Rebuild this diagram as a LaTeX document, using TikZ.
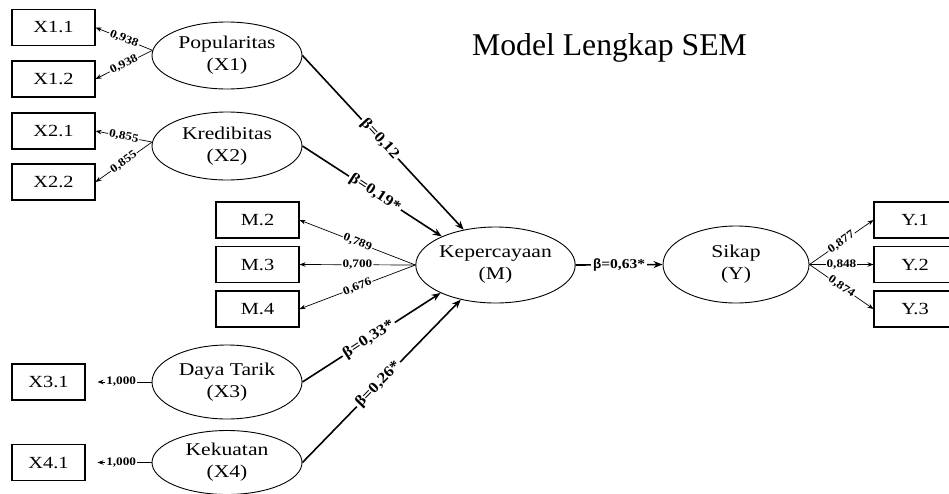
\documentclass[tikz,border=0pt]{standalone}
\usepackage{fontspec}
\setmainfont{Liberation Serif}
\newfontfamily\dfont[FakeStretch=1.2]{Liberation Serif}
\newfontfamily\lfont[FakeStretch=1.15]{Liberation Serif}
\newfontfamily\sfont{Liberation Sans}
\usetikzlibrary{shapes.geometric,arrows.meta}
\begin{document}
\begin{tikzpicture}[x=1pt,y=-1pt,
  ind/.style={draw, line width=1.1pt, rectangle, inner sep=0pt, minimum width=83pt, minimum height=36pt, font=\dfont\fontsize{17}{20}\selectfont},
  lat/.style={draw, line width=0.9pt, ellipse, inner sep=0pt, minimum width=150pt, minimum height=67pt, align=center, font=\dfont\fontsize{18}{22}\selectfont},
  loadarr/.style={line width=0.7pt, -{Stealth[length=6pt,width=4.5pt]}},
  struct/.style={line width=1.6pt, -{Stealth[length=9pt,width=7pt]}},
  lab/.style={fill=white, inner sep=1pt, font=\lfont\bfseries\fontsize{11.5}{13}\selectfont, sloped},
  blab/.style={fill=white, inner sep=2pt, font=\lfont\bfseries\fontsize{15}{17}\selectfont, sloped},
]
\useasboundingbox (0,0) rectangle (949,493);
\clip (0,0) rectangle (949,493);

% title
\node[anchor=base, inner sep=0pt, font=\fontsize{31.7}{36}\selectfont] (title) at (609.5,55) {Model Lengkap SEM};

% indicator boxes
\node[ind] (x11) at (53.5,27.5) {X1.1};
\node[ind] (x12) at (53.5,79) {X1.2};
\node[ind] (x21) at (53.5,131) {X2.1};
\node[ind] (x22) at (53.5,182) {X2.2};
\node[ind, minimum width=73pt] (x31) at (48.5,382) {X3.1};
\node[ind, minimum width=73pt] (x41) at (48.5,462.5) {X4.1};
\node[ind] (m2) at (257.5,220) {M.2};
\node[ind] (m3) at (257.5,264.5) {M.3};
\node[ind] (m4) at (257.5,309) {M.4};
\node[ind, minimum width=82pt] (y1) at (915,220) {Y.1};
\node[ind, minimum width=82pt] (y2) at (915,264.5) {Y.2};
\node[ind, minimum width=82pt] (y3) at (915,309) {Y.3};

% latent variables
\node[lat] (pop) at (227,55.5) {Popularitas\\(X1)};
\node[lat, minimum height=68pt] (kred) at (227,146) {Kredibitas\\(X2)};
\node[lat, minimum height=74pt] (daya) at (227,382) {Daya Tarik\\(X3)};
\node[lat, minimum height=64pt] (kek) at (227,462.5) {Kekuatan\\(X4)};
\node[lat, minimum width=147pt, minimum height=76pt] (kep) at (495.5,265) {Kepercayaan\\(M)};
\node[lat, minimum width=146pt, minimum height=77pt] (sik) at (736,264.5) {Sikap\\(Y)};

% loadings
\draw[loadarr] (pop.176) -- node[lab]{0,938} (x11.east);
\draw[loadarr] (pop.176) -- node[lab]{0,938} (x12.east);
\draw[loadarr] (kred.177) -- node[lab]{0,855} (x21.east);
\draw[loadarr] (kred.177) -- node[lab]{0,855} (x22.east);
\draw[loadarr, shorten >=12pt] (daya.west) -- node[lab, pos=0.46]{1,000} (x31.east);
\draw[loadarr, shorten >=12pt] (kek.west) -- node[lab, pos=0.46]{1,000} (x41.east);
\draw[loadarr] (kep.west) -- node[lab]{0,789} (m2.east);
\draw[loadarr] (kep.west) -- node[lab]{0,700} (m3.east);
\draw[loadarr] (kep.west) -- node[lab]{0,676} (m4.east);
\draw[loadarr] (sik.east) -- node[lab]{0,877} (y1.west);
\draw[loadarr] (sik.east) -- node[lab]{0,848} (y2.west);
\draw[loadarr] (sik.east) -- node[lab]{0,874} (y3.west);

% structural paths
\draw[struct] (pop.east) -- node[blab, pos=0.48]{β=0,12} (kep.132);
\draw[struct] (kred.east) -- node[blab, pos=0.52]{β=0,19*} (kep.152);
\draw[struct] (daya.east) -- node[blab, pos=0.48]{β=0,33*} (kep.207);
\draw[struct] (kek.east) -- node[blab, pos=0.48]{β=0,26*} (kep.225);
\draw[struct] (kep.east) -- node[fill=white, inner sep=2pt, font=\lfont\bfseries\fontsize{13.5}{16}\selectfont]{{\sfont\bfseries β}=0,63*} (sik.west);
\end{tikzpicture}
\end{document}
